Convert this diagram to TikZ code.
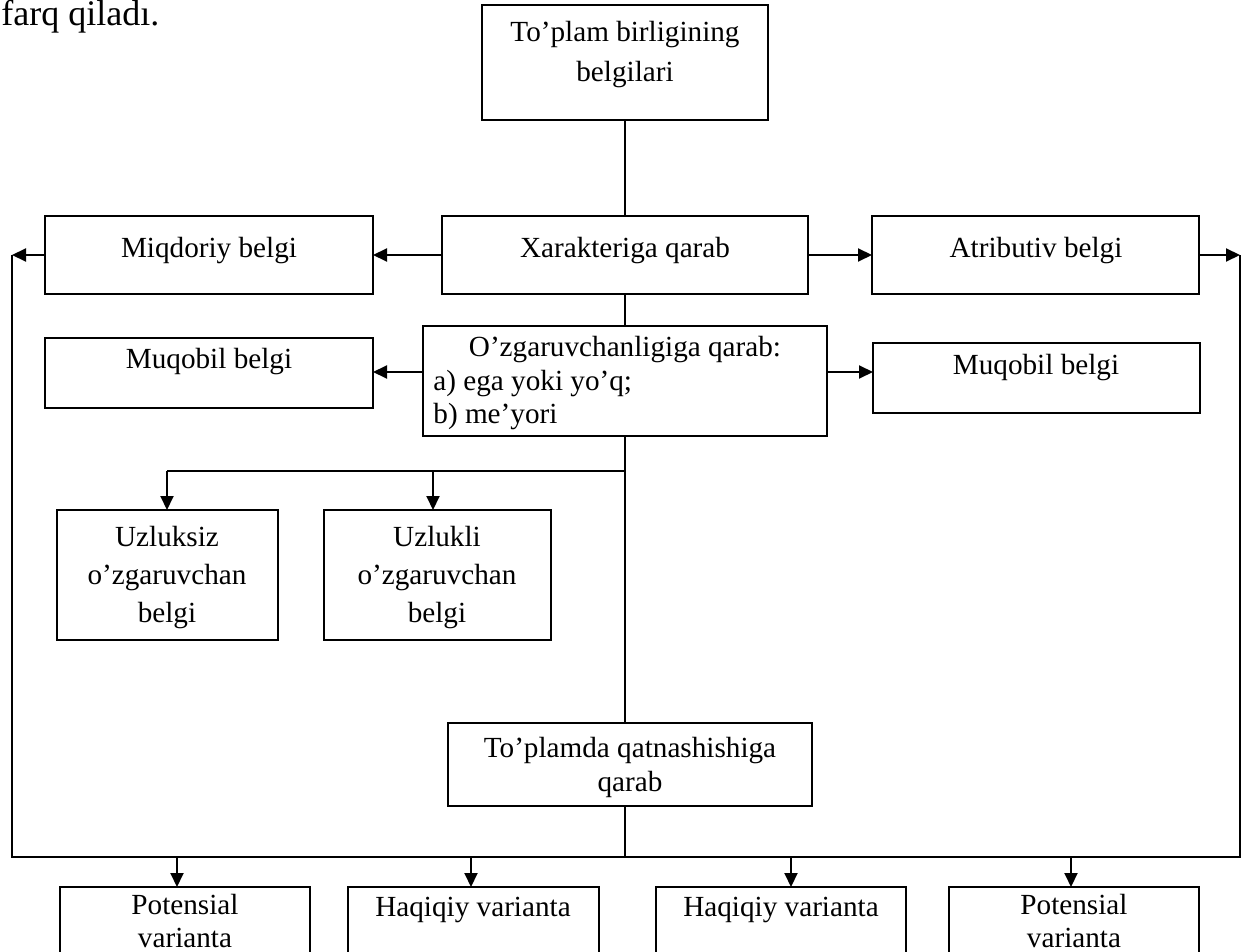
\documentclass[tikz,border=0pt]{standalone}
\usepackage{fontspec}
\setmainfont{Liberation Serif}
\usetikzlibrary{arrows.meta}
\begin{document}
\begin{tikzpicture}[x=0.5pt,y=-0.5pt,
  box/.style={draw, line width=0.9pt, anchor=north west, inner sep=0pt, outer sep=0pt},
  txt/.style={font=\fontsize{14.6}{17}\selectfont, align=center, inner sep=0pt},
  conn/.style={line width=1pt},
  arr/.style={line width=1pt, -{Triangle[length=7pt,width=6.5pt]}},
]
\useasboundingbox (0,0) rectangle (1248,952);
\clip (0,0) rectangle (1248,952);

\node[font=\fontsize{18}{22}\selectfont, anchor=base west, inner sep=0pt] (farq) at (1,26) {farq qiladı.};

% boxes
\node[box, minimum width=143pt, minimum height=57.5pt] (top) at (482,5) {};
\node[box, minimum width=183pt, minimum height=39pt] (xar) at (442,216) {};
\node[box, minimum width=164pt, minimum height=39pt] (miq) at (45,216) {};
\node[box, minimum width=163.5pt, minimum height=39pt] (atr) at (872,216) {};
\node[box, minimum width=202pt, minimum height=55pt] (ozg) at (423,326) {};
\node[box, minimum width=164pt, minimum height=35pt] (mql) at (45,338) {};
\node[box, minimum width=163.5pt, minimum height=35pt] (mqr) at (873,343) {};
\node[box, minimum width=110.5pt, minimum height=65pt] (uz1) at (57,510) {};
\node[box, minimum width=113.5pt, minimum height=65pt] (uz2) at (324,510) {};
\node[box, minimum width=182pt, minimum height=41.5pt] (tpl) at (448,723) {};
\node[box, minimum width=125pt, minimum height=60pt] (p1) at (60,887) {};
\node[box, minimum width=125.5pt, minimum height=60pt] (h1) at (348,887) {};
\node[box, minimum width=125pt, minimum height=60pt] (h2) at (656,887) {};
\node[box, minimum width=125pt, minimum height=60pt] (p2) at (949,887) {};

% texts
\node[txt, font=\fontsize{14.6}{20}\selectfont, anchor=north] (topt) at (625,21) {To’plam birligining\\belgilari};
\node[txt, anchor=base] (xart) at (625,258) {Xarakteriga qarab};
\node[txt, anchor=base] (miqt) at (209,258) {Miqdoriy belgi};
\node[txt, anchor=base] (atrt) at (1036,258) {Atributiv belgi};
\node[txt, anchor=base] (ozt1) at (625,357) {O’zgaruvchanligiga qarab:};
\node[txt, anchor=base west] (ozt2) at (433,390) {a) ega yoki yo’q;};
\node[txt, anchor=base west] (ozt3) at (433,423) {b) me’yori};
\node[txt, anchor=base] (mqlt) at (209,369) {Muqobil belgi};
\node[txt, anchor=base] (mqrt) at (1036,374) {Muqobil belgi};
\node[txt, font=\fontsize{14.6}{19}\selectfont, anchor=north] (uz1t) at (167,526) {Uzluksiz\\o’zgaruvchan\\belgi};
\node[txt, font=\fontsize{14.6}{19}\selectfont, anchor=north] (uz2t) at (437,526) {Uzlukli\\o’zgaruvchan\\belgi};
\node[txt, anchor=north] (tplt) at (630,737) {To’plamda qatnashishiga\\qarab};
\node[txt, font=\fontsize{14.6}{16.5}\selectfont, anchor=north] (p1t) at (185,894) {Potensial\\varianta};
\node[txt, anchor=north] (h1t) at (473,897) {Haqiqiy varianta};
\node[txt, anchor=north] (h2t) at (781,897) {Haqiqiy varianta};
\node[txt, font=\fontsize{14.6}{16.5}\selectfont, anchor=north] (p2t) at (1074,894) {Potensial\\varianta};

% coordinates
\coordinate (L) at (12,255);
\coordinate (R) at (1240,255);
\coordinate (LB) at (12,857);
\coordinate (RB) at (1240,857);
\coordinate (ya) at (0,372);
\coordinate (br) at (625,471);
\coordinate (b1) at (167,471);
\coordinate (b2) at (433,471);
\coordinate (d1) at (177,857);
\coordinate (d2) at (471,857);
\coordinate (d3) at (791,857);
\coordinate (d4) at (1071,857);

% connectors
\draw[conn] (top.south) -- (top.south |- xar.north);
\draw[arr] (xar.west) -- (miq.east);
\draw[arr] (miq.west) -- (L);
\draw[arr] (xar.east) -- (atr.west);
\draw[arr] (atr.east) -- (R);
\draw[conn] (L) -- (LB) -- (RB) -- (R);
\draw[conn] (top.south |- xar.south) -- (top.south |- ozg.north);
\draw[arr] (ozg.west |- ya) -- (mql.east |- ya);
\draw[arr] (ozg.east |- ya) -- (mqr.west |- ya);
\draw[conn] (top.south |- ozg.south) -- (top.south |- tpl.north);
\draw[conn] (br) -- (b1);
\draw[arr] (b1) -- (b1 |- uz1.north);
\draw[arr] (b2) -- (b2 |- uz2.north);
\draw[conn] (top.south |- tpl.south) -- (top.south |- LB);
\draw[arr] (d1) -- (d1 |- p1.north);
\draw[arr] (d2) -- (d2 |- h1.north);
\draw[arr] (d3) -- (d3 |- h2.north);
\draw[arr] (d4) -- (d4 |- p2.north);
\end{tikzpicture}
\end{document}
